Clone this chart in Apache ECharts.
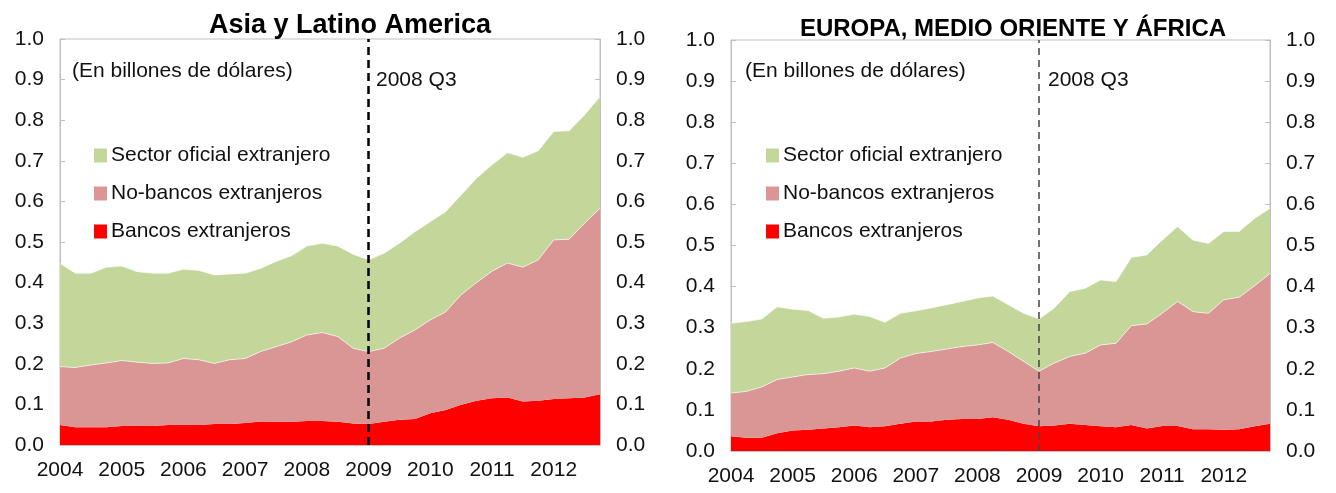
<!DOCTYPE html>
<html>
<head>
<meta charset="utf-8">
<script src="https://cdn.jsdelivr.net/npm/echarts@6/dist/echarts.min.js"></script>
<style>
  html, body { margin: 0; padding: 0; background: #fff; }
  #chart { width: 1336px; height: 493px; }
</style>
</head>
<body>
<div id="chart"></div>
<script>
// trimestres 2004Q1 .. 2012Q4
var categories = [
  "2004Q1","2004Q2","2004Q3","2004Q4","2005Q1","2005Q2","2005Q3","2005Q4",
  "2006Q1","2006Q2","2006Q3","2006Q4","2007Q1","2007Q2","2007Q3","2007Q4",
  "2008Q1","2008Q2","2008Q3","2008Q4","2009Q1","2009Q2","2009Q3","2009Q4",
  "2010Q1","2010Q2","2010Q3","2010Q4","2011Q1","2011Q2","2011Q3","2011Q4",
  "2012Q1","2012Q2","2012Q3","2012Q4"
];
var crisisAt = "2009Q1";
var seriesNames = ["Bancos extranjeros", "No-bancos extranjeros", "Sector oficial extranjero"];

// Asia y Latino America (billones de dólares, cada capa)
var asiaBancos = [0.049,0.044,0.044,0.044,0.047,0.047,0.047,0.049,0.050,0.049,0.052,0.052,
  0.054,0.058,0.057,0.057,0.059,0.059,0.057,0.053,0.052,0.057,0.062,0.064,
  0.078,0.086,0.099,0.109,0.115,0.117,0.107,0.109,0.113,0.115,0.117,0.125];
var asiaNoBancos = [0.144,0.147,0.153,0.158,0.161,0.157,0.154,0.153,0.163,0.161,0.149,0.158,
  0.159,0.172,0.185,0.197,0.212,0.218,0.210,0.185,0.178,0.181,0.201,0.219,
  0.230,0.242,0.271,0.291,0.313,0.331,0.331,0.347,0.392,0.392,0.429,0.458];
var asiaOficial = [0.254,0.232,0.226,0.236,0.233,0.223,0.222,0.221,0.220,0.220,0.218,0.211,
  0.210,0.205,0.210,0.212,0.219,0.220,0.223,0.232,0.226,0.234,0.234,0.242,
  0.242,0.247,0.246,0.257,0.262,0.272,0.271,0.269,0.267,0.267,0.267,0.275];

// Europa, Medio Oriente y África
var emeaBancos = [0.036,0.032,0.032,0.043,0.050,0.052,0.055,0.058,0.062,0.058,0.060,0.066,
  0.072,0.072,0.076,0.078,0.078,0.082,0.076,0.066,0.060,0.062,0.066,0.063,
  0.060,0.058,0.063,0.055,0.061,0.061,0.053,0.053,0.052,0.053,0.060,0.066];
var emeaNoBancos = [0.105,0.113,0.124,0.131,0.130,0.134,0.133,0.136,0.140,0.136,0.142,0.160,
  0.165,0.170,0.172,0.176,0.180,0.182,0.166,0.152,0.134,0.152,0.164,0.175,
  0.198,0.204,0.242,0.254,0.274,0.303,0.286,0.282,0.316,0.321,0.342,0.366];
var emeaOficial = [0.170,0.170,0.165,0.177,0.165,0.156,0.135,0.132,0.131,0.133,0.111,0.109,
  0.104,0.106,0.108,0.110,0.114,0.113,0.114,0.117,0.127,0.134,0.158,0.158,
  0.158,0.150,0.166,0.168,0.178,0.182,0.174,0.170,0.166,0.160,0.164,0.158];

var colors = ["#ff0000", "#d99694", "#c4d79b"];
var font = "'Liberation Sans', Arial, sans-serif";
var boxColor = "#bfbfbf";
var textSize = 21;

var myChart = echarts.init(document.getElementById("chart"));

function yAxisFor(gridIndex, side) {
  return {
    type: "value",
    gridIndex: gridIndex,
    position: side,
    min: 0,
    max: 1,
    interval: 0.1,
    axisLine: { show: true, lineStyle: { color: boxColor } },
    axisTick: { show: true, inside: true, length: 5, lineStyle: { color: boxColor } },
    splitLine: { show: false },
    axisLabel: {
      margin: 16,
      color: "#111",
      fontSize: textSize,
      fontFamily: font,
      formatter: function (v) { return v.toFixed(1); }
    }
  };
}

function xAxisFor(gridIndex) {
  return {
    type: "category",
    gridIndex: gridIndex,
    data: categories,
    boundaryGap: false,
    axisLine: { lineStyle: { color: boxColor } },
    axisTick: {
      inside: true,
      length: 5,
      interval: function (i) { return i % 4 === 0; },
      lineStyle: { color: boxColor }
    },
    axisLabel: {
      margin: 15,
      color: "#111",
      fontSize: textSize,
      fontFamily: font,
      interval: function (i) { return i % 4 === 0; },
      formatter: function (v) { return v.slice(0, 4); }
    }
  };
}

function areaSeries(name, data, idx, gridIndex, dashed) {
  var s = {
    name: name,
    type: "line",
    stack: "total" + gridIndex,
    xAxisIndex: gridIndex,
    yAxisIndex: gridIndex * 2,
    data: data,
    symbol: "none",
    lineStyle: { width: idx === 0 ? 0 : 1, color: "rgba(255,255,255,0.6)" },
    itemStyle: { color: colors[idx] },
    areaStyle: { color: colors[idx], opacity: 1 },
    emphasis: { disabled: true },
    z: 2
  };
  if (dashed) {
    s.markLine = {
      silent: true,
      symbol: "none",
      label: { show: false },
      lineStyle: dashed,
      data: [{ xAxis: crisisAt }]
    };
  }
  return s;
}

function legendAt(left) {
  return {
    data: seriesNames.slice().reverse(),
    orient: "vertical",
    left: left, top: 140,
    icon: "rect", itemWidth: 13, itemHeight: 14, itemGap: 17, itemStyle: { borderWidth: 0 },
    selectedMode: false,
    textStyle: { fontSize: textSize, color: "#111", fontFamily: font, padding: [0, 0, 0, -1] }
  };
}

function note(text, left, top) {
  return { text: text, left: left, top: top,
    textStyle: { fontSize: textSize, fontWeight: "normal", color: "#111", fontFamily: font } };
}

var option = {
  animation: false,
  title: [
    { text: "Asia y Latino America", left: 345, top: 7, textAlign: "center",
      textStyle: { fontSize: 27, fontWeight: "bold", color: "#000", fontFamily: font } },
    { text: "EUROPA, MEDIO ORIENTE Y ÁFRICA", left: 1008, top: 12, textAlign: "center",
      textStyle: { fontSize: 24, fontWeight: "bold", color: "#000", fontFamily: font } },
    note("(En billones de dólares)", 67, 56),
    note("(En billones de dólares)", 740, 56),
    note("2008 Q3", 371, 65),
    note("2008 Q3", 1043, 65)
  ],
  legend: [legendAt(89), legendAt(761)],
  grid: [
    { left: 60, right: 736, top: 39, bottom: 48, show: true, borderColor: boxColor, borderWidth: 1 },
    { left: 731, right: 66, top: 40, bottom: 42, show: true, borderColor: boxColor, borderWidth: 1 }
  ],
  xAxis: [xAxisFor(0), xAxisFor(1)],
  yAxis: [yAxisFor(0, "left"), yAxisFor(0, "right"), yAxisFor(1, "left"), yAxisFor(1, "right")],
  series: [
    areaSeries(seriesNames[0], asiaBancos, 0, 0),
    areaSeries(seriesNames[1], asiaNoBancos, 1, 0),
    areaSeries(seriesNames[2], asiaOficial, 2, 0, { color: "#000", width: 2.5, type: [8, 5] }),
    areaSeries(seriesNames[0], emeaBancos, 0, 1),
    areaSeries(seriesNames[1], emeaNoBancos, 1, 1),
    areaSeries(seriesNames[2], emeaOficial, 2, 1, { color: "#444", width: 1.5, type: [7, 5] })
  ]
};

myChart.setOption(option);
</script>
</body>
</html>
